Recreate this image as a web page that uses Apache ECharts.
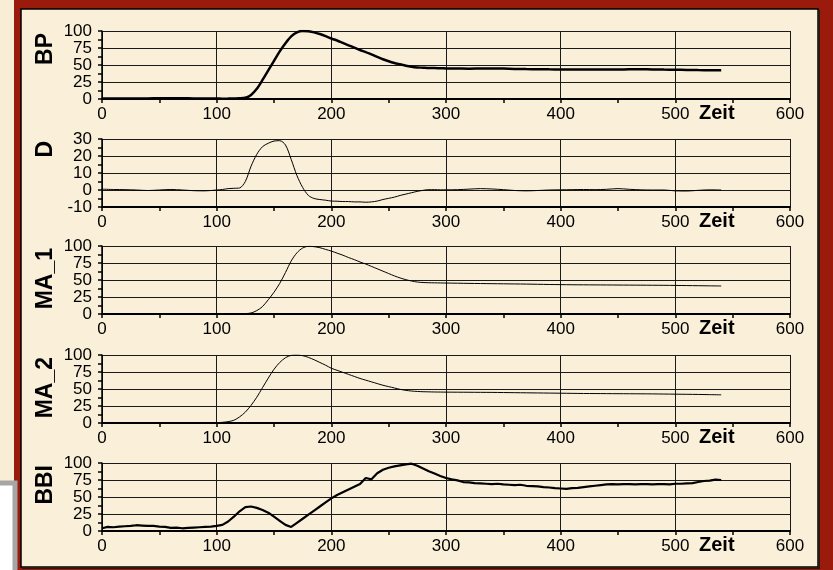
<!DOCTYPE html>
<html>
<head>
<meta charset="utf-8">
<title>BP / D / MA_1 / MA_2 / BBI</title>
<script src="https://cdn.jsdelivr.net/npm/echarts@6/dist/echarts.min.js"></script>
<style>
html, body { margin: 0; padding: 0; }
#div_kurven { width: 833px; height: 570px; }
</style>
</head>
<body>
<div id="div_kurven"></div>
<script>
// Zeitpunkte fuer BP, D, MA_1, MA_2
var zeit_a = [0,10,20,30,40,50,60,70,80,90,100,
    105,110,115,120,125,130,135,140,145,150,155,160,165,170,175,180,185,190,195,200,
    205,210,215,220,225,230,235,240,245,250,255,260,265,270,275,280,285,290,295,300,
    310,320,330,340,350,360,370,380,390,400,410,420,430,440,450,460,470,480,490,500,510,520,530,540];

// Zeitpunkte fuer BBI
var zeit_bbi = [0,5,10,15,20,25,30,35,40,45,50,55,60,65,70,75,80,85,90,95,
    100,105,110,115,120,125,130,135,140,145,150,155,160,165,170,175,180,185,190,195,
    200,205,210,215,220,225,230,235,240,245,250,255,260,265,270,275,280,285,290,295,
    300,305,310,315,320,325,330,335,340,345,350,355,360,365,370,375,380,385,390,395,
    400,405,410,415,420,425,430,435,440,445,450,455,460,465,470,475,480,485,490,495,
    500,505,510,515,520,525,530,535,540];

var bp = [0.6,0.6,0.7,0.8,0.9,1,1.1,1,0.9,0.7,0.6,
    0.5,0.6,0.8,1,2,6,15,28,42,56,70,82,92,98,100,99.5,98,95.5,92.5,89,
    86,82.5,79,75.5,72,69,65.5,62,58.5,55.5,53,51,49,47.5,46.5,46,45.5,45.5,45.2,45,
    44.8,44.5,44.8,45,44.7,44.3,44,43.8,43.6,43.5,43.5,43.5,43.4,43.4,43.5,43.6,43.6,43.5,43.2,43,42.8,42.5,42.3,42.2];

var d = [0.5,0.3,0.2,0,-0.3,0,0.3,0,-0.4,-0.5,0,
    0.3,0.8,1,1.2,5,14,21,25.5,27.5,28.8,29,26.5,18,8.5,1.5,-3.2,-5,-5.6,-6,-6.5,
    -6.6,-6.8,-6.8,-7,-7,-7.2,-7,-6.5,-5.6,-4.9,-4.2,-3.2,-2.4,-1.6,-0.8,-0.2,0.2,0.2,0.1,0.1,
    0.2,0.5,0.8,0.6,0.2,-0.3,-0.5,-0.3,0,0.1,0.2,0.3,0.2,0.4,0.8,0.4,0.1,0,0,-0.5,-0.6,-0.2,0.1,0];

var ma_1 = [0,0,0,0,0.3,0.5,0.5,0.6,0.6,0.5,0.3,
    0.3,0.3,0.3,0.4,0.6,1.5,5,11,21,32,45,61,78,90,97,99.5,99,97.5,95,92.5,
    89.5,86.5,83,80,76.5,73.5,70,66.5,63,59.5,56,53,50.5,48.5,47,46.3,46,45.8,45.7,45.5,
    45.3,45,44.8,44.6,44.4,44.2,44,43.7,43.4,43.2,43,42.9,42.8,42.7,42.6,42.5,42.4,42.3,42.2,42,41.8,41.6,41.4,41.2];

var ma_2 = [0,0,0,0,0,0.5,0.5,0.5,0.4,0.3,0.5,
    1,2,4,9,16,26,38,52,66,79,89,96,99.5,100,99,96.5,93,89,85,80.5,
    77.5,74.5,71.5,68.5,65.5,63,60.5,58,55.5,53.5,51.5,49.5,48,47,46.4,46,45.8,45.6,45.5,45.4,
    45.3,45.2,45.1,45,44.8,44.6,44.4,44.2,44,43.8,43.6,43.4,43.3,43.2,43.1,43,42.9,42.8,42.6,42.4,42.2,42,41.7,41.4];

var bbi = [4,6,5.5,6.5,7,7.5,8.5,8,7.5,7.5,
    6.5,6,4.5,5,4,4.5,5,5.5,6,6.5,
    7.5,9,14,21,29,35,36,34,31,27,
    21,15,9,6,12,18,24,30,36,42,
    48,53,57,61,65,69,78,76,85,90,
    93,95,96.5,98,99,96,92,88,84.5,81,
    78,76,74.5,72,71.5,70.5,70,69.5,69,69.5,
    68.5,68,67.5,68,66.5,66,65.5,64.5,64,63,
    62.5,62,63,63.5,64.5,65.5,66.5,67.5,68.5,69,
    68.5,69,69,68.5,69,69,68.5,69,69,68.5,
    69.5,69.5,70,70.5,72,73.5,74,75.5,75];

var schrift = 'Liberation Sans, Arial, sans-serif';

// x/y Paare bauen
function paare(xs, ys) {
    var res = [];
    for (var i = 0; i < xs.length; i++) {
        res.push([xs[i], ys[i]]);
    }
    return res;
}

// Aufbau der fuenf Diagramme
var panels = [
    {name: 'BP',   top: 31,  height: 68, min: 0,   max: 100, interval: 25, xs: zeit_a,   ys: bp,   width: 2.5, glatt: 0.3},
    {name: 'D',    top: 139, height: 68, min: -10, max: 30,  interval: 10, xs: zeit_a,   ys: d,    width: 1,   glatt: 0.3},
    {name: 'MA_1', top: 246, height: 68, min: 0,   max: 100, interval: 25, xs: zeit_a,   ys: ma_1, width: 1,   glatt: 0.3},
    {name: 'MA_2', top: 355, height: 68, min: 0,   max: 100, interval: 25, xs: zeit_a,   ys: ma_2, width: 1,   glatt: 0.3},
    {name: 'BBI',  top: 463, height: 68, min: 0,   max: 100, interval: 25, xs: zeit_bbi, ys: bbi,  width: 2.2, glatt: false}
];

var grids = [], xAxes = [], yAxes = [], series = [];

for (var i = 0; i < panels.length; i++) {
    var p = panels[i];
    grids.push({left: 102, width: 688, top: p.top, height: p.height});
    xAxes.push({
        gridIndex: i,
        type: 'value',
        min: 0, max: 600, interval: 100,
        name: 'Zeit',
        nameLocation: 'end',
        nameGap: -91,
        nameMoveOverlap: false,
        nameTextStyle: {
            color: '#000', fontFamily: schrift, fontWeight: 'bold', fontSize: 20,
            align: 'left', verticalAlign: 'top', padding: [4, 0, 0, 0]
        },
        axisLine: {onZero: false, lineStyle: {color: '#000', width: 2}},
        axisTick: {show: true, length: 4, lineStyle: {color: '#000', width: 1.5}},
        minorTick: {show: true, splitNumber: 2, length: 4, lineStyle: {color: '#000', width: 1.5}},
        splitLine: {show: true, lineStyle: {color: '#1a1a1a', width: 1}},
        axisLabel: {color: '#000', fontFamily: schrift, fontSize: 17, margin: 7,
            showMinLabel: true, showMaxLabel: true, hideOverlap: false}
    });
    yAxes.push({
        gridIndex: i,
        type: 'value',
        min: p.min, max: p.max, interval: p.interval,
        name: p.name,
        nameLocation: 'end',
        nameRotate: 90,
        nameGap: -2,
        nameMoveOverlap: false,
        nameTextStyle: {
            color: '#000', fontFamily: schrift, fontWeight: 'bold', fontSize: 23,
            align: 'right', verticalAlign: 'bottom', padding: [0, 0, 45, 0]
        },
        axisLine: {show: true, lineStyle: {color: '#000', width: 1.5}},
        axisTick: {show: true, length: 4, lineStyle: {color: '#000', width: 1.5}},
        minorTick: {show: true, splitNumber: 2, length: 4, lineStyle: {color: '#000', width: 1.5}},
        splitLine: {show: true, lineStyle: {color: '#1a1a1a', width: 1}},
        axisLabel: {color: '#000', fontFamily: schrift, fontSize: 17, margin: 10, lineHeight: 14,
            showMinLabel: true, showMaxLabel: true, hideOverlap: false}
    });
    series.push({
        name: p.name,
        type: 'line',
        xAxisIndex: i,
        yAxisIndex: i,
        data: paare(p.xs, p.ys),
        showSymbol: false,
        smooth: p.glatt,
        animation: false,
        lineStyle: {color: '#000', width: p.width}
    });
}

var option_kurven = {
    backgroundColor: '#f8eed6',
    animation: false,
    graphic: [
        // roter Rahmen
        {type: 'rect', z: -30, silent: true, shape: {x: 14, y: 0, width: 830, height: 580},
            style: {fill: '#9a1b0c'}},
        // helle Flaeche
        {type: 'rect', z: -29, silent: true, shape: {x: 21, y: 9, width: 797, height: 558},
            style: {fill: '#faf0da', stroke: '#000', lineWidth: 1.5}},
        {type: 'polyline', z: -28, silent: true, shape: {points: [[819, 10], [819, 568], [22, 568]]},
            style: {stroke: '#2a1a10', lineWidth: 2}},
        // graues Fenster unten links
        {type: 'rect', z: -27, silent: true, shape: {x: -10, y: 483, width: 25, height: 100},
            style: {fill: '#ffffff', stroke: '#a6a6a6', lineWidth: 5}}
    ],
    grid: grids,
    xAxis: xAxes,
    yAxis: yAxes,
    series: series
};

var kurven_chart = echarts.init(document.getElementById('div_kurven'));
kurven_chart.setOption(option_kurven);
</script>
</body>
</html>
